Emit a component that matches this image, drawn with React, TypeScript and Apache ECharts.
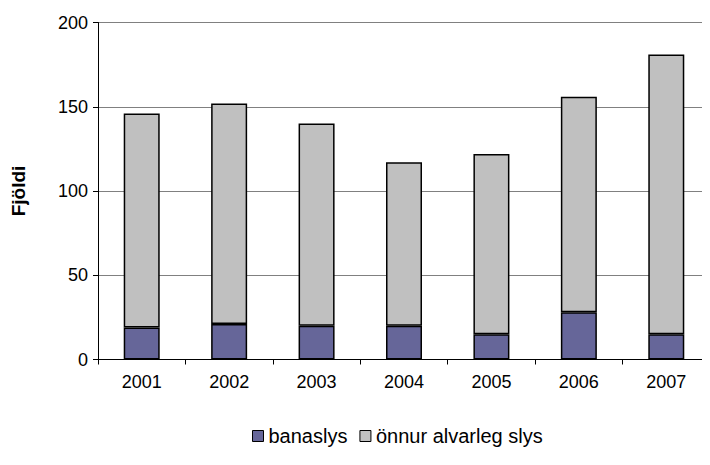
import React, { useEffect, useRef } from "react";
import * as echarts from "echarts";

const categories = ["2001", "2002", "2003", "2004", "2005", "2006", "2007"];
const banaslys = [19, 21, 20, 20, 15, 28, 15];
const onnurSlys = [127, 131, 120, 97, 107, 128, 166];
const seriesNames = ["banaslys", "önnur alvarleg slys"];
const yTitle = "Fjöldi";

export default function App() {
  const ref = useRef<HTMLDivElement>(null);
  useEffect(() => {
    if (!ref.current) return;
    const chart = echarts.init(ref.current, null, { renderer: "svg" });
    const font = "Liberation Sans, Arial, sans-serif";
    chart.setOption({
      animation: false,
      backgroundColor: "#ffffff",
      textStyle: { fontFamily: font },
      grid: { left: 98, top: 22.5, width: 621, height: 337 },
      legend: {
        left: 247,
        top: 421,
        itemWidth: 11,
        itemHeight: 11,
        itemGap: 12,
        textStyle: { fontFamily: font, fontSize: 20, color: "#000" },
        data: seriesNames.map((n) => ({
          name: n,
          icon: "rect",
          itemStyle: { borderColor: "#000", borderWidth: 1 },
        })),
      },
      xAxis: {
        type: "category",
        data: categories,
        axisLine: { lineStyle: { color: "#000", width: 1 } },
        axisTick: { show: true, length: 5, lineStyle: { color: "#000" } },
        axisLabel: { fontFamily: font, fontSize: 18, color: "#000", margin: 13 },
      },
      yAxis: {
        type: "value",
        min: 0,
        max: 200,
        interval: 50,
        name: yTitle,
        nameLocation: "middle",
        nameGap: 70,
        nameRotate: 90,
        nameTextStyle: { fontFamily: font, fontSize: 19, fontWeight: "bold", color: "#000" },
        axisLine: { show: true, lineStyle: { color: "#000", width: 1 } },
        axisTick: { show: true, length: 5, lineStyle: { color: "#000" } },
        axisLabel: { fontFamily: font, fontSize: 18, color: "#000", margin: 10 },
        splitLine: { show: true, lineStyle: { color: "#808080", width: 1 } },
      },
      series: [
        {
          name: seriesNames[0],
          type: "bar",
          stack: "total",
          data: banaslys,
          barWidth: 36,
          itemStyle: { color: "#666699", borderColor: "#000", borderWidth: 1.5 },
        },
        {
          name: seriesNames[1],
          type: "bar",
          stack: "total",
          data: onnurSlys,
          barWidth: 36,
          itemStyle: { color: "#C0C0C0", borderColor: "#000", borderWidth: 1.5 },
        },
      ],
    });
    return () => chart.dispose();
  }, []);
  return <div ref={ref} style={{ width: 710, height: 465, marginLeft: -8, marginTop: -8 }} />;
}
